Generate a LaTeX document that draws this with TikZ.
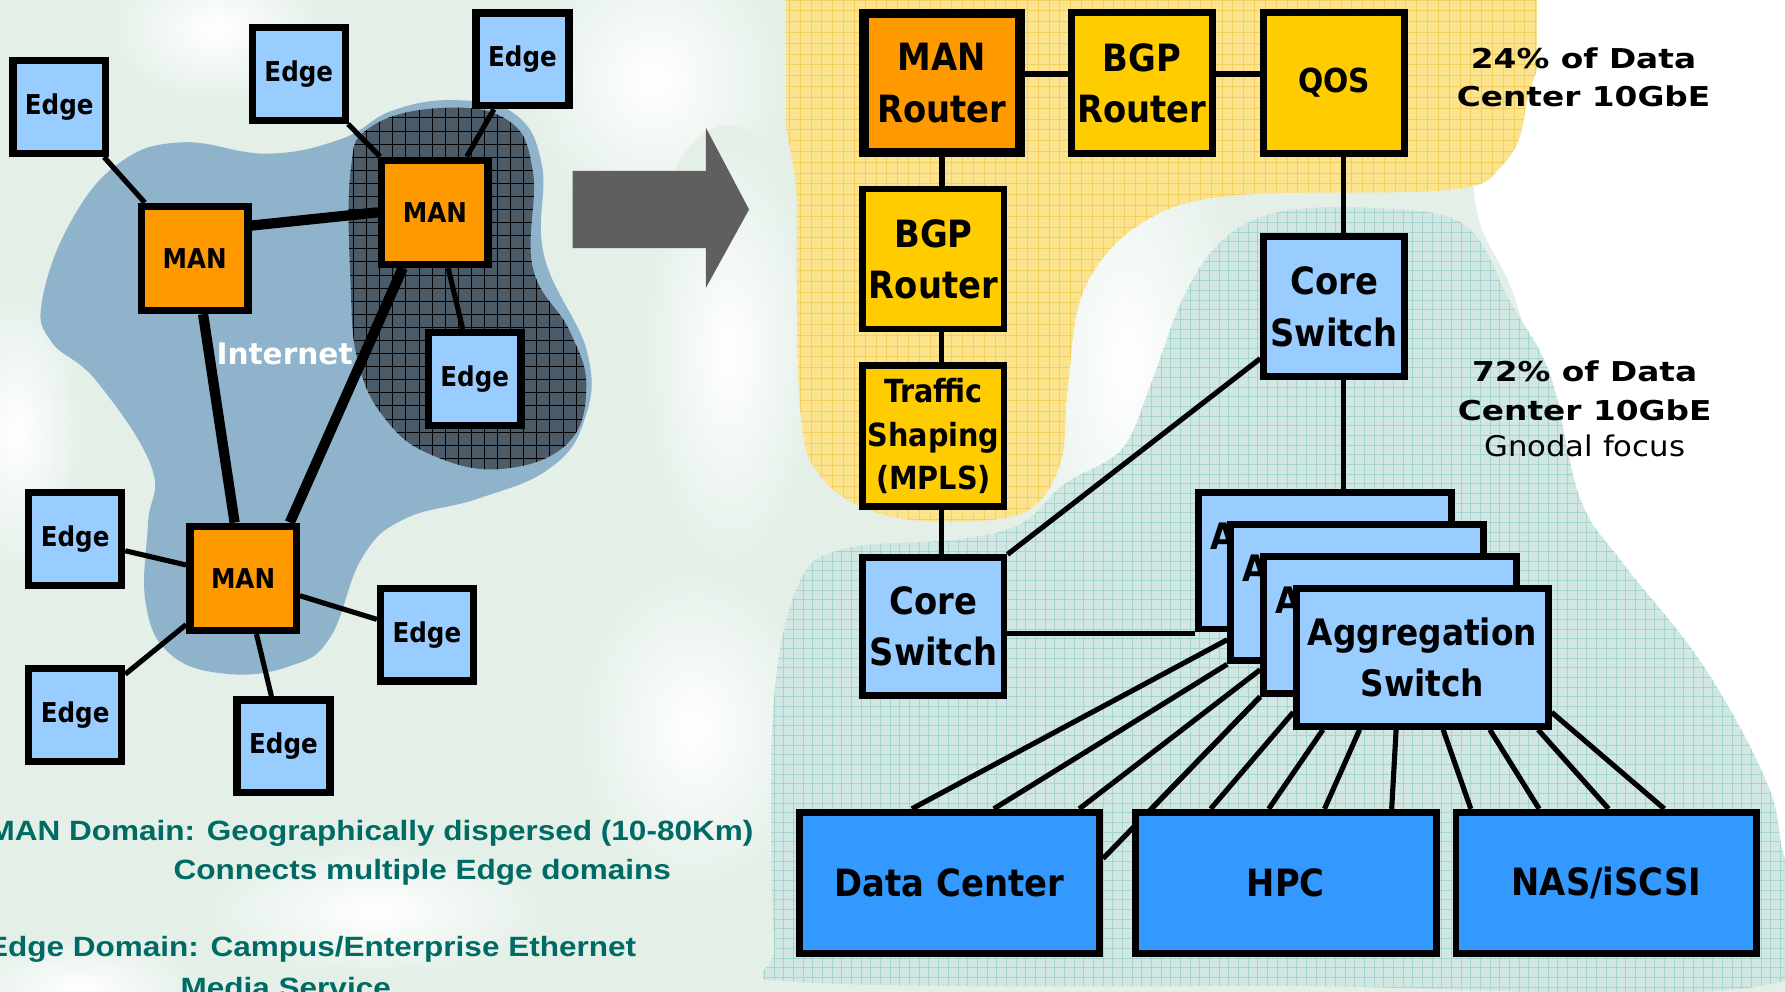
\documentclass[tikz,border=0pt]{standalone}
\usepackage{fontspec}
\setmainfont{DejaVu Sans}
\newfontfamily\boxfont[FakeStretch=0.9]{DejaVu Sans}
\newfontfamily\notefont[FakeStretch=1.2]{DejaVu Sans}
\newfontfamily\focusfont[FakeStretch=1.08]{DejaVu Sans}
\newfontfamily\capfont[FakeStretch=1.13]{Liberation Sans}

\definecolor{edgeblue}{HTML}{99CCFF}
\definecolor{manorange}{HTML}{FF9900}
\definecolor{bgpyellow}{HTML}{FFCC00}
\definecolor{siteblue}{HTML}{3399FF}
\definecolor{cloudblue}{HTML}{8FB3CB}
\definecolor{cloudgrey}{HTML}{4B5B68}
\definecolor{sunfill}{HTML}{FCE38E}
\definecolor{sungrid}{HTML}{F3CF62}
\definecolor{seafill}{HTML}{D0E7E4}
\definecolor{seagrid}{HTML}{A8D4CE}
\definecolor{paper}{HTML}{E3EFE7}
\definecolor{tealtext}{HTML}{006A64}
\definecolor{arrowgrey}{HTML}{5F5F5F}

\pgfdeclarelayer{blobs}
\pgfdeclarelayer{wires}
\pgfsetlayers{blobs,wires,main}

\begin{document}
\begin{tikzpicture}[x=1pt, y=-1pt,
  netbox/.style={draw, inner sep=0pt, align=center},
  edgebox/.style={netbox, line width=6.5pt, fill=edgeblue, minimum width=81.5pt,
    minimum height=81.5pt, font=\boxfont\bfseries\fontsize{24}{28}\selectfont},
  manbox/.style={netbox, line width=6.5pt, fill=manorange, minimum width=93.5pt,
    minimum height=91.5pt, font=\boxfont\bfseries\fontsize{24}{28}\selectfont},
  routerbox/.style={netbox, line width=6pt, fill=bgpyellow, minimum width=124pt,
    minimum height=124pt, font=\boxfont\bfseries\fontsize{33}{45}\selectfont},
  switchbox/.style={netbox, line width=6pt, fill=edgeblue, minimum width=124pt,
    minimum height=122pt, font=\boxfont\bfseries\fontsize{33}{45}\selectfont},
  aggbox/.style={switchbox, minimum width=222pt, minimum height=120pt,
    font=\boxfont\bfseries\fontsize{32}{44}\selectfont},
  sitebox/.style={netbox, line width=6pt, fill=siteblue, minimum width=264pt,
    minimum height=124pt, font=\boxfont\bfseries\fontsize{33}{40}\selectfont},
  wire/.style={line width=4.5pt},
  trunk/.style={line width=9pt},
  caption/.style={font=\capfont\bfseries\fontsize{24.5}{33}\selectfont,
    text=tealtext, inner sep=0pt},
  note/.style={font=\notefont\bfseries\fontsize{24}{34}\selectfont,
    align=center, inner sep=0pt}]

  \useasboundingbox (0,0) rectangle (1568,871);

  % Background and clouds
  \begin{pgfonlayer}{blobs}
    \fill[paper] (0,0) rectangle (1568,871);
    \foreach \cx/\cy/\rx/\ry in {990/320/110/260, 575/70/120/130, 640/310/80/200,
        610/640/110/150, 15/380/60/130, 190/25/100/70, 330/800/160/60, 70/870/110/50}
      \shade[inner color=white, outer color=paper] (\cx,\cy) ellipse ({\rx pt} and {\ry pt});
    \fill[white] plot[smooth cycle, tension=0.6] coordinates {
      (1300,-20) (1590,-20) (1590,800) (1520,700) (1440,560) (1380,420)
      (1330,260) (1295,170)};

    % Internet cloud
    \fill[cloudblue] plot[smooth cycle, tension=0.7] coordinates {
      (37,264) (62,195) (105,143) (160,125) (235,135) (300,122) (345,97)
      (400,88) (452,100) (476,145) (478,225) (516,310) (513,370) (482,412)
      (420,438) (355,456) (318,490) (290,560) (255,585) (200,592) (150,575)
      (128,530) (130,460) (133,410) (85,335) (45,300)};
    \begin{scope}
      \clip plot[smooth cycle, tension=0.7] coordinates {
        (308,150) (325,112) (385,95) (445,105) (468,150) (468,235) (500,290)
        (515,340) (498,390) (440,412) (380,400) (340,370) (315,320) (308,250)};
      \fill[cloudgrey] (290,80) rectangle (530,430);
      \draw[black, line width=0.7pt, step=11.5pt] (290,80) grid (530,430);
    \end{scope}

    % Service provider area
    \begin{scope}
      \clip plot[smooth cycle, tension=0.6] coordinates {
        (703,-30) (1020,-30) (1338,-30) (1340,95) (1318,147) (1270,167)
        (1080,172) (1000,198) (952,255) (938,340) (932,405) (905,447)
        (850,458) (775,452) (722,420) (703,360) (700,180)};
      \fill[sunfill] (690,-40) rectangle (1350,470);
      \draw[sungrid, line width=0.8pt, step=9.5pt] (690,-40) grid (1350,470);
    \end{scope}

    % Data center area
    \begin{scope}
      \clip plot[smooth cycle, tension=0.6] coordinates {
        (1125,186) (1210,183) (1287,198) (1328,268) (1362,330) (1388,438)
        (1425,494) (1493,580) (1547,676) (1564,740) (1566,862) (1127,866)
        (692,862) (680,830) (679,626) (701,514) (742,482) (840,474)
        (897,460) (935,425) (985,395) (1010,340) (1040,260) (1075,210)};
      \fill[seafill] (670,170) rectangle (1580,880);
      \draw[seagrid, line width=0.8pt, step=8.5pt] (670,170) grid (1580,880);
    \end{scope}
  \end{pgfonlayer}

  % Arrow
  \fill[arrowgrey] (503,150) -- (620,150) -- (620,112) -- (658,184)
    -- (620,253) -- (620,218) -- (503,218) -- cycle;

  % MAN / Edge domains
  \node[edgebox] (e1) at (52,94)      {Edge};
  \node[edgebox] (e2) at (262.5,65)   {Edge};
  \node[edgebox] (e3) at (459,52)     {Edge};
  \node[manbox]  (m1) at (171,227)    {MAN};
  \node[manbox]  (m2) at (382,186.5)  {MAN};
  \node[edgebox] (e4) at (417,333)    {Edge};
  \node[manbox]  (m3) at (213.5,508)  {MAN};
  \node[edgebox] (e5) at (66,473.5)   {Edge};
  \node[edgebox] (e6) at (375,557.5)  {Edge};
  \node[edgebox] (e7) at (66,628)     {Edge};
  \node[edgebox] (e8) at (249,655.5)  {Edge};
  \node[text=white, font=\bfseries\fontsize{26}{30}\selectfont] (inet) at (250,311) {Internet};

  % Captions
  \node[caption, anchor=base east] (c1) at (662,738.5) {MAN Domain: Geographically dispersed (10-80Km)};
  \node[caption, anchor=base]      (c2) at (371,772.5) {Connects multiple Edge domains};
  \node[caption, anchor=base east] (c3) at (559,840.5) {Edge Domain: Campus/Enterprise Ethernet};
  \node[caption, anchor=base]      (c4) at (251,876)   {Media Service};

  % Data center side
  \node[routerbox, fill=manorange, line width=8pt, minimum width=137pt,
        minimum height=122pt] (mr) at (827.5,73) {MAN\\Router};
  \node[routerbox] (bgp1) at (1003,73)  {BGP\\Router};
  \node[routerbox, font=\boxfont\bfseries\fontsize{29}{35}\selectfont] (qos) at (1172,73) {QOS};
  \node[routerbox, minimum height=123pt] (bgp2) at (820,227.5) {BGP\\Router};
  \node[routerbox, font=\boxfont\bfseries\fontsize{28}{38}\selectfont] (ts) at (820,383) {Traffic\\Shaping\\(MPLS)};
  \node[switchbox, minimum height=121pt] (cs1) at (820,550.5) {Core\\Switch};
  \node[switchbox, minimum height=123pt] (cs2) at (1172,269.5) {Core\\Switch};

  \node[aggbox] (ag1) at (1164,492.5)  {Aggregation\\Switch};
  \node[aggbox] (ag2) at (1192,520.5)  {Aggregation\\Switch};
  \node[aggbox] (ag3) at (1221,549)    {Aggregation\\Switch};
  \node[aggbox, minimum width=221pt, minimum height=121pt] (ag4) at (1249.5,577.5) {Aggregation\\Switch};

  \node[sitebox] (dc)  at (834,775.5)    {Data Center};
  \node[sitebox] (hpc) at (1129.5,775.5) {HPC};
  \node[sitebox] (nas) at (1411,775.5)   {NAS/iSCSI};

  % Notes
  \node[note] (n1) at (1391,68)  {24\% of Data\\Center 10GbE};
  \node[note] (n2) at (1392,343) {72\% of Data\\Center 10GbE};
  \node[font=\focusfont\fontsize{25}{30}\selectfont, inner sep=0pt] (n3) at (1392,392) {Gnodal focus};

  % Links
  \begin{pgfonlayer}{wires}
    \draw[wire] (e1) -- (m1);
    \draw[wire] (e2) -- (m2);
    \draw[wire] (e3) -- (m2);
    \draw[wire] (m2) -- (e4);
    \draw[trunk] (m1.30) -- (m2.west);
    \draw[trunk] (m1) -- (m3);
    \draw[trunk] (m2.240) -- (m3.50);
    \foreach \leaf in {e5,e6,e7,e8}
      \draw[wire] (m3) -- (\leaf);

    \draw[wire] ([yshift=8pt]mr.east) -- ([yshift=8pt]bgp1.west);
    \draw[wire] ([yshift=8pt]bgp1.east) -- ([yshift=8pt]qos.west);
    \draw[wire] ([xshift=8pt]qos.south) -- ([xshift=8pt]cs2.north);
    \draw[wire] (mr.south) -- (mr.south |- bgp2.north);
    \draw[wire] ([xshift=7pt]bgp2.south) -- ([xshift=7pt]ts.north);
    \draw[wire] ([xshift=7pt]ts.south) -- ([xshift=7pt]cs1.north);
    \draw[wire] ([xshift=8pt]cs2.south) -- ([xshift=8pt]cs2.south |- ag1.north);
    \draw[wire] (cs1.north east) -- (cs2.215);
    \draw[wire] ([yshift=-6pt]cs1.east) -- ([yshift=-6pt]cs1.east -| ag1.west);

    % fan out to the sites
    \foreach \src/\dx/\dst in {ag2.200/102/dc, ag2.south west/174/dc, ag3.199/249/dc,
        ag3.south west/17/hpc, ag4.203/69/hpc, ag4.216/120/hpc, ag4.229/169/hpc,
        ag4.250/228/hpc, ag4.286/16/nas, ag4.313/76/nas, ag4.328/137/nas, ag4.337/186/nas}
      \draw[wire] (\src) -- ([xshift=\dx pt]\dst.north west);
    \draw[wire] (ag3.south west) -- (dc.9);
  \end{pgfonlayer}

\end{tikzpicture}
\end{document}
